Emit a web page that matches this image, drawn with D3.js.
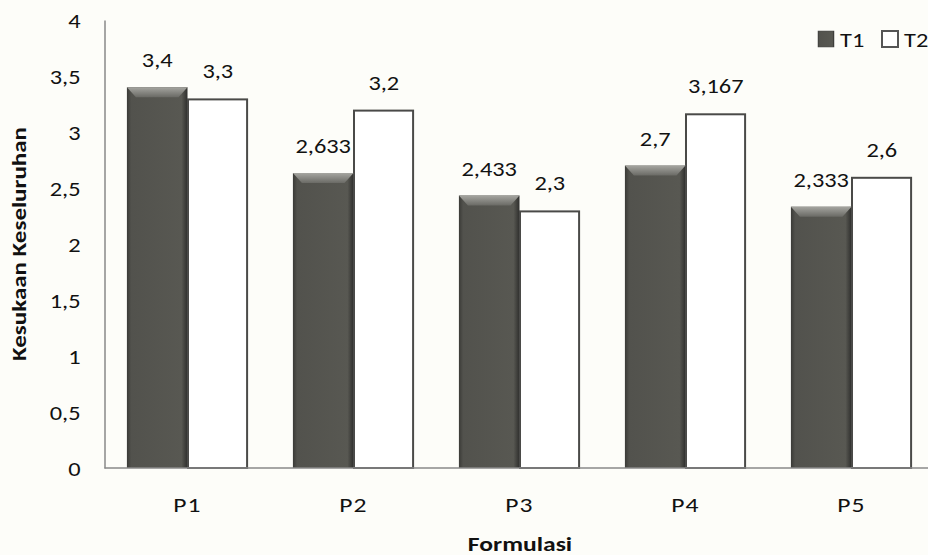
<!DOCTYPE html>
<html>
    <head>
        <meta charset="utf-8" />
        <title>Kesukaan Keseluruhan</title>
        <style>
            body { margin: 0; background: #fdfdf9; }
            text { font-family: Carlito, Lato, "Open Sans", sans-serif; }
        </style>
    </head>
    <body>
    <script src="https://cdnjs.cloudflare.com/ajax/libs/d3/7.8.5/d3.min.js"></script>
    <script>
        var categories = ['P1', 'P2', 'P3', 'P4', 'P5'];
        var series = ['T1', 'T2'];
        var t1 = [3.4, 2.633, 2.433, 2.7, 2.333];
        var t2 = [3.3, 3.2, 2.3, 3.167, 2.6];
        var yTicks = [0, 0.5, 1, 1.5, 2, 2.5, 3, 3.5, 4];

        var width = 928,
            height = 555;
        var sx = 1.22; // the original picture is stretched a bit sideways

        var svg = d3.select('body').append('svg')
                    .attr('width', width)
                    .attr('height', height);

        var defs = svg.append('defs');
        var grad = defs.append('linearGradient')
            .attr('id', 'darkbar')
            .attr('x1', '0%').attr('x2', '100%');
        grad.append('stop').attr('offset', '0%').attr('stop-color', '#3a3a37');
        grad.append('stop').attr('offset', '7%').attr('stop-color', '#52524d');
        grad.append('stop').attr('offset', '90%').attr('stop-color', '#585852');
        grad.append('stop').attr('offset', '100%').attr('stop-color', '#2f2f2d');

        var bev = defs.append('linearGradient')
            .attr('id', 'bevel')
            .attr('x1', '0%').attr('x2', '0%').attr('y1', '0%').attr('y2', '100%');
        bev.append('stop').attr('offset', '0%').attr('stop-color', '#a5a5a0');
        bev.append('stop').attr('offset', '100%').attr('stop-color', '#6a6a65');

        var x = d3.scaleBand()
            .domain(categories)
            .range([104.5, 934.5]);

        var xs = d3.scaleBand()
            .domain(series)
            .range([0, x.bandwidth() * 0.73])
            .padding(0);

        var off = (x.bandwidth() - xs.range()[1]) / 2;

        var y = d3.scaleLinear()
            .domain([0, 4])
            .range([468, 20]);

        var fmt = function(v) { return String(v).replace('.', ','); };

        // y axis
        var yAxis = svg.append('g')
            .attr('transform', 'translate(104.5,0)')
            .call(d3.axisLeft(y).tickValues(yTicks).tickSize(0).tickPadding(0).tickFormat(fmt));
        yAxis.select('.domain').attr('stroke', '#888').attr('stroke-width', 1.5);
        yAxis.selectAll('text')
            .attr('x', null).attr('dy', null)
            .attr('transform', 'translate(-24,7) scale(' + sx + ',1)')
            .attr('font-size', 20).attr('fill', '#111')
            .style('font-family', 'Carlito, Lato, sans-serif');

        var data = categories.map(function(c, i) {
            return [{cat: c, s: 'T1', v: t1[i]}, {cat: c, s: 'T2', v: t2[i]}];
        });

        var groups = svg.selectAll('.grp')
            .data(data)
          .enter().append('g')
            .attr('class', 'grp')
            .attr('transform', function(d) { return 'translate(' + (x(d[0].cat) + off) + ',0)'; });

        groups.selectAll('rect')
            .data(function(d) { return d; })
          .enter().append('rect')
            .attr('x', function(d) { return xs(d.s) + (d.s == 'T2' ? 0.5 : 0); })
            .attr('y', function(d) { return y(d.v) + (d.s == 'T2' ? 1 : 0); })
            .attr('width', function(d) { return xs.bandwidth() - (d.s == 'T2' ? 1.5 : 0); })
            .attr('height', function(d) { return y(0) - y(d.v) - (d.s == 'T2' ? 1 : 0); })
            .attr('fill', function(d) { return d.s == 'T1' ? 'url(#darkbar)' : '#ffffff'; })
            .attr('stroke', function(d) { return d.s == 'T1' ? 'none' : '#4a4a48'; })
            .attr('stroke-width', 2);

        // bevel on top of dark bars
        var darkOnly = function(d) { return d.filter(function(e) { return e.s == 'T1'; }); };
        groups.selectAll('.bevel')
            .data(darkOnly)
          .enter().append('path')
            .attr('class', 'bevel')
            .attr('d', function(d) {
                var x0 = xs(d.s), x1 = x0 + xs.bandwidth(), t = y(d.v);
                return 'M' + x0 + ',' + t + 'L' + x1 + ',' + t + 'L' + (x1 - 9) + ',' + (t + 10) +
                       'L' + (x0 + 9) + ',' + (t + 10) + 'Z';
            })
            .attr('fill', 'url(#bevel)');

        groups.selectAll('.lbl')
            .data(function(d) { return d; })
          .enter().append('text')
            .attr('class', 'lbl')
            .attr('transform', function(d) {
                return 'translate(' + (xs(d.s) + xs.bandwidth() / 2) + ',' + (y(d.v) - 20) + ') scale(' + sx + ',1)';
            })
            .attr('text-anchor', 'middle')
            .attr('font-size', 20)
            .attr('fill', '#111')
            .text(function(d) { return fmt(d.v); });

        // x axis line and labels
        svg.append('line')
            .attr('x1', 104.5).attr('x2', width)
            .attr('y1', y(0)).attr('y2', y(0))
            .attr('stroke', '#888').attr('stroke-width', 1.5);

        svg.selectAll('.xlbl')
            .data(categories)
          .enter().append('text')
            .attr('class', 'xlbl')
            .attr('transform', function(d) {
                return 'translate(' + (x(d) + x.bandwidth() / 2) + ',512) scale(' + sx + ',1)';
            })
            .attr('text-anchor', 'middle')
            .attr('font-size', 21)
            .attr('letter-spacing', 1)
            .attr('fill', '#111')
            .text(function(d) { return d; });

        svg.append('text')
            .attr('transform', 'translate(520,551) scale(' + sx + ',1)')
            .attr('text-anchor', 'middle')
            .attr('font-size', 21).attr('font-weight', 'bold')
            .attr('fill', '#111')
            .text('Formulasi');

        svg.append('text')
            .attr('transform', 'translate(26,244) rotate(-90) scale(1.25,1)')
            .attr('text-anchor', 'middle')
            .attr('font-size', 20).attr('font-weight', 'bold')
            .attr('fill', '#111')
            .text('Kesukaan Keseluruhan');

        // legend
        var legend = svg.selectAll('.leg')
            .data(series)
          .enter().append('g')
            .attr('class', 'leg')
            .attr('transform', function(d, i) { return 'translate(' + (818 + i * 64) + ',31)'; });
        legend.append('rect')
            .attr('width', 16).attr('height', 16)
            .attr('fill', function(d) { return d == 'T1' ? 'url(#darkbar)' : '#fff'; })
            .attr('stroke', function(d) { return d == 'T1' ? '#444' : '#555'; })
            .attr('stroke-width', function(d) { return d == 'T1' ? 0.5 : 2; });
        legend.append('text')
            .attr('transform', 'translate(22,16) scale(' + sx + ',1)')
            .attr('font-size', 20)
            .attr('fill', '#111')
            .text(function(d) { return d; });
    </script>
    </body>
</html>
